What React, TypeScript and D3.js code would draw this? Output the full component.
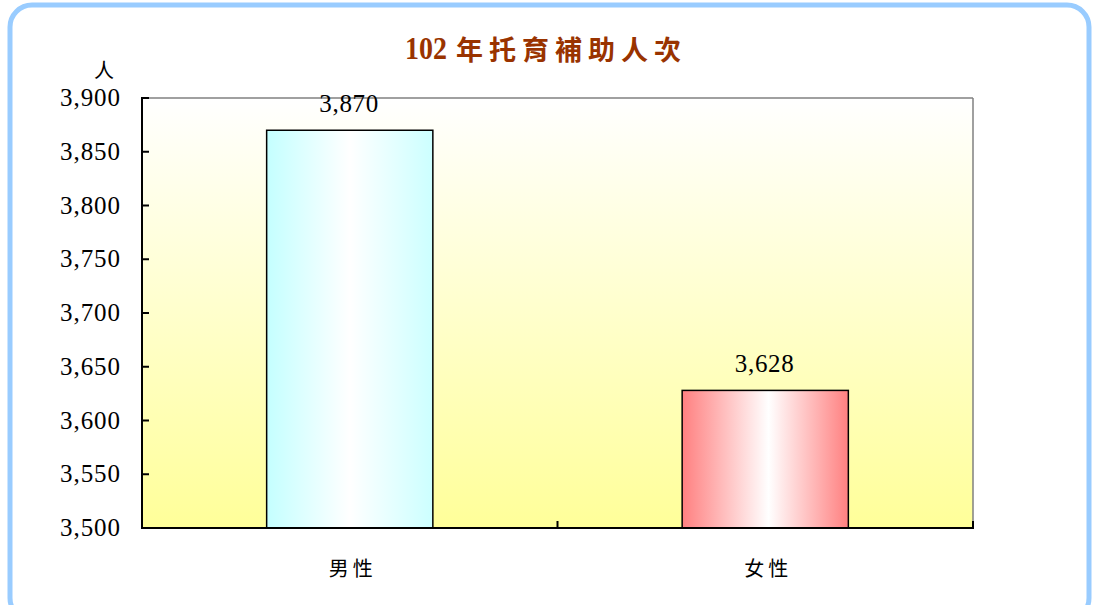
import React from "react";
import * as d3 from "d3";

const categories = ["男性", "女性"];
const values = [3870, 3628];
const yTicks = [3500, 3550, 3600, 3650, 3700, 3750, 3800, 3850, 3900];
const titleNum = "102";
const titleText = "年托育補助人次";
const unitLabel = "人";

const width = 1093;
const height = 605;
const margin = { top: 98, right: 120, bottom: 77, left: 142 };

const serif = "'Liberation Serif', 'DejaVu Serif', serif";
const cjk = "'Noto Sans CJK TC', 'Noto Sans CJK SC', sans-serif";

const App = () => {
  const x0 = margin.left;
  const x1 = width - margin.right;
  const y0 = height - margin.bottom;
  const y1 = margin.top;

  const xScale = d3
    .scaleBand<string>()
    .domain(categories)
    .range([x0, x1])
    .paddingInner(0.6)
    .paddingOuter(0.3);

  const yScale = d3.scaleLinear().domain([3500, 3900]).range([y0, y1]);
  const fmt = d3.format(",");
  const step = xScale.step();

  // category boundary ticks on the x axis
  const xTicks = d3.range(categories.length + 1).map((i) => x0 + i * step);

  const gradIds = ["barMale", "barFemale"];

  return (
    <div style={{ position: "absolute", left: 0, top: 0 }}>
      <svg width={width} height={height} style={{ display: "block", background: "white" }}>
        <defs>
          <linearGradient id="plotBg" x1="0" y1="0" x2="0" y2="1">
            <stop offset="0" stopColor="#ffffff" />
            <stop offset="1" stopColor="#ffff99" />
          </linearGradient>
          <linearGradient id="barMale" x1="0" y1="0" x2="1" y2="0">
            <stop offset="0" stopColor="#c4ffff" />
            <stop offset="0.5" stopColor="#ffffff" />
            <stop offset="1" stopColor="#ccffff" />
          </linearGradient>
          <linearGradient id="barFemale" x1="0" y1="0" x2="1" y2="0">
            <stop offset="0" stopColor="#ff8080" />
            <stop offset="0.52" stopColor="#ffffff" />
            <stop offset="1" stopColor="#ff8080" />
          </linearGradient>
        </defs>

        {/* outer rounded frame */}
        <rect
          x={10}
          y={5}
          width={1079}
          height={615}
          rx={22}
          ry={22}
          fill="white"
          stroke="#99ccff"
          strokeWidth={5}
        />

        {/* title */}
        <text y={59} fill="#993300" fontWeight="bold">
          <tspan
            x={405}
            fontFamily={serif}
            fontSize={32}
            textLength={42}
            lengthAdjust="spacingAndGlyphs"
          >
            {titleNum}
          </tspan>
          <tspan x={456} y={60} fontFamily={cjk} fontSize={27} letterSpacing={6}>
            {titleText}
          </tspan>
        </text>

        {/* unit */}
        <text x={104} y={78} textAnchor="middle" fontFamily={cjk} fontSize={20} fill="#000">
          {unitLabel}
        </text>

        {/* plot area */}
        <rect x={x0} y={y1} width={x1 - x0} height={y0 - y1} fill="url(#plotBg)" />

        {/* bars */}
        {values.map((v, i) => {
          const bx = xScale(categories[i]) ?? 0;
          const by = yScale(v);
          return (
            <g key={categories[i]}>
              <rect
                x={bx}
                y={by}
                width={xScale.bandwidth()}
                height={y0 - by}
                fill={`url(#${gradIds[i]})`}
                stroke="#000"
                strokeWidth={1.5}
              />
            </g>
          );
        })}

        {/* frame lines */}
        <line x1={x0} x2={x1} y1={y1} y2={y1} stroke="#808080" strokeWidth={1.5} />
        <line x1={x1} x2={x1} y1={y1} y2={y0} stroke="#808080" strokeWidth={1.5} />
        <line x1={x0} x2={x0} y1={y1 - 1} y2={y0 + 1} stroke="#000" strokeWidth={2} />
        <line x1={x0} x2={x1 + 1} y1={y0} y2={y0} stroke="#000" strokeWidth={2} />

        {/* y ticks + labels */}
        {yTicks.map((t) => (
          <g key={t}>
            <line x1={x0} x2={x0 + 7} y1={yScale(t)} y2={yScale(t)} stroke="#000" strokeWidth={2} />
            <text
              x={120}
              y={yScale(t) + 8}
              textAnchor="end"
              fontFamily={serif}
              fontSize={25}
              textLength={60}
              lengthAdjust="spacing"
              fill="#000"
            >
              {fmt(t)}
            </text>
          </g>
        ))}

        {/* x ticks */}
        {xTicks.map((t, i) => (
          <line key={i} x1={t} x2={t} y1={y0} y2={y0 - 7} stroke="#000" strokeWidth={2} />
        ))}

        {/* value labels */}
        {values.map((v, i) => {
          const cx = (xScale(categories[i]) ?? 0) + xScale.bandwidth() / 2;
          return (
            <text
              key={`v-${i}`}
              x={cx - 1}
              y={yScale(v) - 18}
              textAnchor="middle"
              fontFamily={serif}
              fontSize={25}
              textLength={59}
              lengthAdjust="spacing"
              fill="#000"
            >
              {fmt(v)}
            </text>
          );
        })}

        {/* category labels */}
        {categories.map((c) => (
          <text
            key={c}
            x={(xScale(c) ?? 0) + xScale.bandwidth() / 2 + 3}
            y={576}
            textAnchor="middle"
            fontFamily={cjk}
            fontSize={20}
            letterSpacing={4}
            fill="#000"
          >
            {c}
          </text>
        ))}
      </svg>
    </div>
  );
};

export default App;
